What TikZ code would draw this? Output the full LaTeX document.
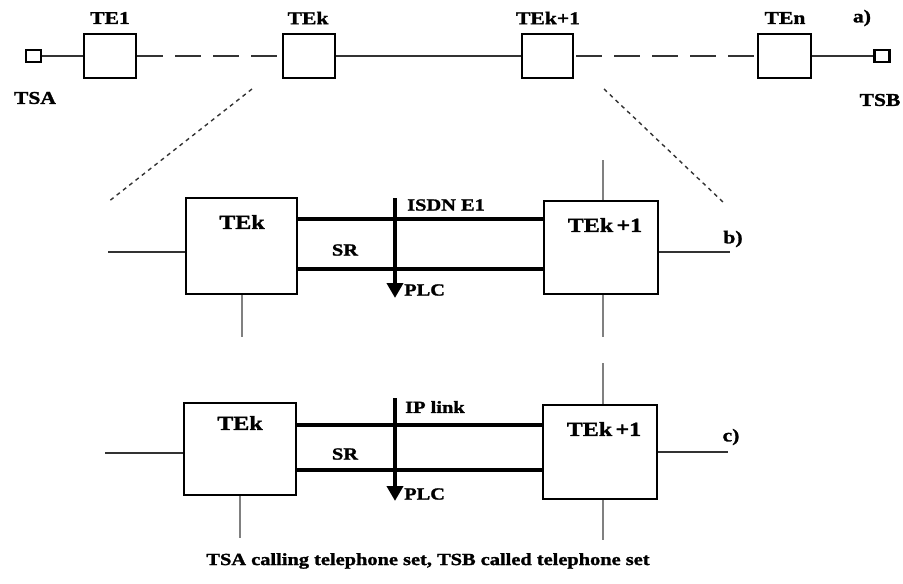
\documentclass[tikz,border=0pt]{standalone}
\usepackage{fontspec}
\setmainfont{Liberation Serif}[FakeStretch=1.2,FakeBold=1.5]
\usetikzlibrary{arrows.meta}
\tikzset{
  lbl/.style={font=\fontsize{18}{20}\selectfont\bfseries, inner sep=0pt},
  boxlbl/.style={font=\fontsize{20}{22}\selectfont\bfseries, inner sep=0pt},
  smlbl/.style={font=\fontsize{17}{19}\selectfont\bfseries, inner sep=0pt},
  tebox/.style={draw, line width=2.6pt, minimum width=52pt, minimum height=44pt, inner sep=0pt},
  tsbox/.style={draw, line width=2.3pt, minimum width=15pt, minimum height=12pt, inner sep=0pt},
  bigbox/.style={draw, line width=2.8pt, inner sep=0pt},
  thin/.style={line width=1.4pt, draw=black!80},
  dashline/.style={line width=1.4pt, draw=black!80, dash pattern=on 26pt off 12pt},
  dotline/.style={line width=1.4pt, draw=black!80, dash pattern=on 4pt off 4pt},
  stub/.style={line width=1.8pt, draw=black!50},
  link/.style={line width=4.5pt},
  plc/.style={line width=3.8pt, -{Triangle[width=16pt,length=15pt]}},
}
\begin{document}
\begin{tikzpicture}[x=1pt,y=-1pt]
\useasboundingbox (0,0) rectangle (903,584);
% ---- a) top row
\node[tsbox] (tsa) at (33.5,56) {};
\node[tebox] (te1) at (110,56) {};
\node[tebox] (tek) at (309,56) {};
\node[tebox, minimum width=51pt] (tek1) at (547.5,56) {};
\node[tebox, minimum width=53pt] (ten) at (784.5,56) {};
\node[tsbox] (tsb) at (882,56) {};
\draw[thin] (tsa) -- (te1);
\draw[dashline] (te1.east) -- (tek.west);
\draw[thin] (tek) -- (tek1);
\draw[dashline] ([xshift=2pt]tek1.east) -- (ten.west);
\draw[thin] (ten) -- (tsb);
\node[lbl] (ltsa) at (35,98) {TSA};
\node[lbl] (lte1) at (110,18) {TE1};
\node[lbl] (ltek) at (308,18) {TEk};
\node[lbl] (ltek1) at (548,18) {TEk+1};
\node[lbl] (lten) at (785,18) {TEn};
\node[lbl] (la) at (862,18) {a)};
\node[lbl] (ltsb) at (880,100) {TSB};
% zoom lines
\coordinate (zl1) at (252,89);
\coordinate (zl2) at (108,202);
\coordinate (zr1) at (604,89);
\coordinate (zr2) at (723,202);
\draw[dotline] (zl1) -- (zl2);
\draw[dotline] (zr1) -- (zr2);
% ---- b)
\node[bigbox, minimum width=111pt, minimum height=96pt] (tekb) at (241.5,246) {};
\node[bigbox, minimum width=114pt, minimum height=93pt] (tek1b) at (601,247.5) {};
\node[boxlbl] (ltekb) at (242,222) {TEk};
\node[boxlbl] (ltek1b) at (605,225) {TEk\,+1};
\draw[link] (tekb.east |- 0,219) -- (tek1b.west |- 0,219);
\draw[link] (tekb.east |- 0,269) -- (tek1b.west |- 0,269);
\coordinate (pb1) at (395,198);
\coordinate (pb2) at (395,298);
\draw[plc] (pb1) -- (pb2);
\node[smlbl, anchor=west] (isdn) at (407,205) {ISDN E1};
\node[smlbl] (srb) at (345,250) {SR};
\node[smlbl, anchor=west] (plcb) at (404,290) {PLC};
\coordinate (lb) at (108,252);
\coordinate (rb) at (730,252);
\draw[thin] (lb) -- (tekb.west |- lb);
\draw[thin] (tek1b.east |- rb) -- (rb);
\node[lbl] (lbb) at (733,239) {b)};
\coordinate (sb1) at (242,337);
\coordinate (sb2) at (603,160);
\coordinate (sb3) at (603,337);
\draw[stub] (tekb.south -| sb1) -- (sb1);
\draw[stub] (sb2) -- (tek1b.north -| sb2);
\draw[stub] (tek1b.south -| sb3) -- (sb3);
% ---- c)
\node[bigbox, minimum width=112pt, minimum height=92pt] (tekc) at (240,449) {};
\node[bigbox, minimum width=114pt, minimum height=94pt] (tek1c) at (600,452) {};
\node[boxlbl] (ltekc) at (240,423) {TEk};
\node[boxlbl] (ltek1c) at (604,429) {TEk\,+1};
\draw[link] (tekc.east |- 0,425) -- (tek1c.west |- 0,425);
\draw[link] (tekc.east |- 0,470) -- (tek1c.west |- 0,470);
\coordinate (pc1) at (395,398);
\coordinate (pc2) at (395,501);
\draw[plc] (pc1) -- (pc2);
\node[smlbl, anchor=west] (ipl) at (405,407) {IP link};
\node[smlbl] (src) at (345,454) {SR};
\node[smlbl, anchor=west] (plcc) at (404,494) {PLC};
\coordinate (lc) at (105,453);
\coordinate (rc) at (728,452);
\draw[thin] (lc) -- (tekc.west |- lc);
\draw[thin] (tek1c.east |- rc) -- (rc);
\node[lbl] (lcc) at (731,437) {c)};
\coordinate (sc1) at (240,538);
\coordinate (sc2) at (603,363);
\coordinate (sc3) at (603,540);
\draw[stub] (tekc.south -| sc1) -- (sc1);
\draw[stub] (sc2) -- (tek1c.north -| sc2);
\draw[stub] (tek1c.south -| sc3) -- (sc3);
% caption
\node[smlbl] (cap) at (428,561) {TSA calling telephone set, TSB called telephone set};
\end{tikzpicture}
\end{document}
